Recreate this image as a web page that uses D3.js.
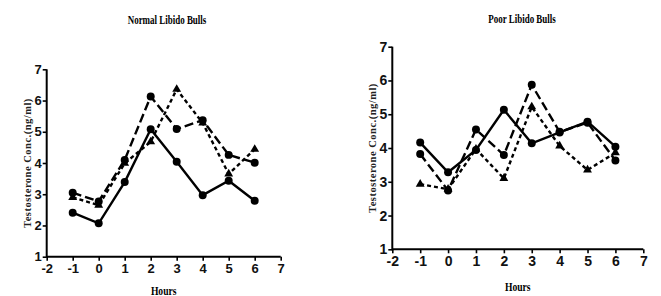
<!DOCTYPE html>
<html>
<head>
<meta charset="utf-8">
<script src="https://cdn.jsdelivr.net/npm/d3@7"></script>
<style>
  body { margin: 0; background: #fff; }
  svg { display: block; }
</style>
</head>
<body>
<svg id="chart"></svg>
<script>
// data
const hours = [-1, 0, 1, 2, 3, 4, 5, 6];
const xTicks = [-2, -1, 0, 1, 2, 3, 4, 5, 6, 7];
const yTicks = [1, 2, 3, 4, 5, 6, 7];
const yLabel = "Testosterone Conc.(ng/ml)";
const xLabel = "Hours";

const normalSolid = [2.41, 2.07, 3.39, 5.08, 4.04, 2.97, 3.43, 2.79];
const normalLongDash = [3.05, 2.77, 4.1, 6.13, 5.09, 5.37, 4.26, 4.01];
const normalShortDash = [2.9, 2.65, 3.99, 4.68, 6.36, 5.28, 3.65, 4.44];

const poorSolid = [4.16, 3.28, 3.94, 5.13, 4.14, 4.46, 4.78, 4.04];
const poorLongDash = [3.82, 2.74, 4.55, 3.79, 5.87, 4.48, 4.75, 3.63];
const poorShortDash = [2.93, 2.78, 3.97, 3.1, 5.22, 4.06, 3.35, 3.86];

const w = 661;
const h = 296;

const svg = d3.select("#chart").attr("width", w).attr("height", h);

// dash styles for the three series
const styles = {
  solid: { dash: null, marker: "circle" },
  longDash: { dash: "9,4", marker: "circle" },
  shortDash: { dash: "4,3", marker: "triangle" }
};

function drawPanel(p) {
  const xScale = d3.scaleLinear().domain([-2, 7]).range([p.x0, p.x1]);
  const yScale = d3.scaleLinear().domain([1, 7]).range([p.y1, p.y0]);

  const g = svg.append("g");

  // x axis
  const xAxis = g
    .append("g")
    .attr("transform", `translate(0, ${p.y1})`)
    .call(d3.axisBottom(xScale).tickValues(xTicks).tickSize(4).tickPadding(3).tickFormat(d3.format("d")));
  // y axis
  const yAxis = g
    .append("g")
    .attr("transform", `translate(${p.x0}, 0)`)
    .call(d3.axisLeft(yScale).tickValues(yTicks).tickSize(4).tickPadding(1).tickFormat(d3.format("d")));

  [xAxis, yAxis].forEach(a => {
    a.select(".domain").remove();
    a.selectAll(".tick line").attr("stroke", "#000").attr("stroke-width", 1.6);
    a.selectAll(".tick text")
      .attr("fill", "#111")
      .style("font-family", "'Liberation Sans Narrow', 'Arial Narrow', sans-serif")
      .style("font-weight", "bold")
      .style("font-size", p.tickFont + "px")
      .text(d => d < 0 ? "-" + Math.abs(d) : d);
  });
  // plain axis lines
  g.append("line")
    .attr("x1", p.x0).attr("x2", p.x1)
    .attr("y1", p.y1).attr("y2", p.y1)
    .attr("stroke", "#000").attr("stroke-width", 2);
  g.append("line")
    .attr("x1", p.x0).attr("x2", p.x0)
    .attr("y1", p.y0).attr("y2", p.y1 + 1)
    .attr("stroke", "#000").attr("stroke-width", 2);

  const line = d3.line().x((d, i) => xScale(hours[i])).y(d => yScale(d));

  p.series.forEach(s => {
    const st = styles[s.style];
    g.append("path")
      .datum(s.values)
      .attr("d", line)
      .attr("fill", "none")
      .attr("stroke", "#000")
      .attr("stroke-width", 2.4)
      .attr("stroke-dasharray", st.dash);

    const sym = st.marker === "circle" ? d3.symbolCircle : d3.symbolTriangle;
    const size = st.marker === "circle" ? 50 : 34;
    g.selectAll(null)
      .data(s.values)
      .enter()
      .append("path")
      .attr("d", d3.symbol().type(sym).size(size))
      .attr("transform", (d, i) => `translate(${xScale(hours[i])}, ${yScale(d)})`)
      .attr("fill", "#000");
  });

  // title
  g.append("text")
    .attr("transform", `translate(${p.titleX}, ${p.titleY}) scale(0.78, 1)`)
    .attr("text-anchor", "middle")
    .style("font-family", "'Liberation Serif', serif")
    .style("font-weight", "bold")
    .style("font-size", "11.5px")
    .text(p.title);

  // y label
  g.append("text")
    .attr("transform", `translate(${p.yLabelX}, ${(p.y0 + p.y1) / 2}) rotate(-90)`)
    .attr("text-anchor", "middle")
    .style("font-family", "'Liberation Serif', serif")
    .style("font-weight", "bold")
    .style("font-size", "10.5px")
    .style("letter-spacing", "0.5px")
    .attr("fill", "#222")
    .text(yLabel);

  // x label
  g.append("text")
    .attr("transform", `translate(${(p.x0 + p.x1) / 2}, ${p.xLabelY}) scale(0.8, 1)`)
    .attr("text-anchor", "middle")
    .style("font-family", "'Liberation Serif', serif")
    .style("font-weight", "bold")
    .style("font-size", "12px")
    .text(xLabel);
}

drawPanel({
  title: "Normal Libido Bulls",
  x0: 46.7, x1: 280.7, y0: 69.3, y1: 256.7,
  titleX: 167, titleY: 23.5,
  yLabelX: 31, xLabelY: 295,
  tickFont: 13,
  series: [
    { values: normalShortDash, style: "shortDash" },
    { values: normalLongDash, style: "longDash" },
    { values: normalSolid, style: "solid" }
  ]
});

drawPanel({
  title: "Poor Libido Bulls",
  x0: 392.3, x1: 643.3, y0: 46.7, y1: 249.3,
  titleX: 522, titleY: 23,
  yLabelX: 376, xLabelY: 291,
  tickFont: 14,
  series: [
    { values: poorShortDash, style: "shortDash" },
    { values: poorLongDash, style: "longDash" },
    { values: poorSolid, style: "solid" }
  ]
});
</script>
</body>
</html>
